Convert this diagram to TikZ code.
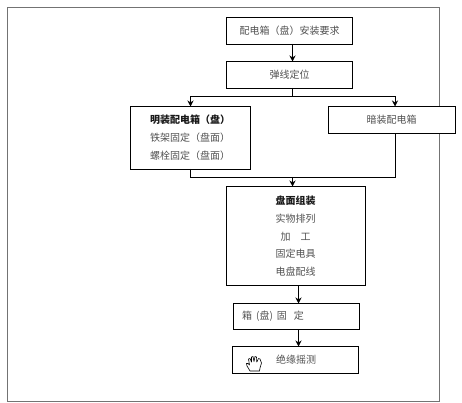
\documentclass[tikz,border=0pt]{standalone}
\usepackage{fontspec}
\setmainfont{Noto Sans CJK SC}
\usetikzlibrary{arrows.meta}
\tikzset{
  box/.style={draw=black,fill=white,line width=0.9pt,inner sep=0pt,outer sep=0pt,minimum width=#1},
  lbl/.style={font=\fontsize{10}{12}\selectfont,text=black!68,inner sep=0pt},
  ttl/.style={font=\fontsize{10}{12}\selectfont\bfseries,text=black!90,inner sep=0pt},
  flow/.style={line width=0.9pt,-{Stealth[length=6pt,width=6pt]}},
  seg/.style={line width=0.9pt}
}
\begin{document}
\begin{tikzpicture}[x=1pt,y=-1pt]
\useasboundingbox (0,0) rectangle (462,403);
\node[draw=black!55,line width=0.9pt,minimum width=432pt,minimum height=393pt,inner sep=0pt,anchor=north west] (frame) at (6.5,7.5) {};
% boxes
\node[box=126pt,minimum height=26.5pt,anchor=north west] (A) at (226.5,17.5) {};
\node[box=126pt,minimum height=26.5pt,anchor=north west] (B) at (226.5,61.5) {};
\node[box=120pt,minimum height=62.5pt,anchor=north west] (C) at (130.5,106.5) {};
\node[box=127pt,minimum height=27pt,anchor=north west] (D) at (328.5,106.5) {};
\node[box=139pt,minimum height=98.5pt,anchor=north west] (E) at (226.5,186.5) {};
\node[box=126pt,minimum height=25.5pt,anchor=north west] (F) at (233.5,303.5) {};
\node[box=126pt,minimum height=26.5pt,anchor=north west] (G) at (232.5,346.5) {};
% texts
\node[lbl] (ta) at (289.5,30.5) {配电箱（盘）安装要求};
\node[lbl] (tb) at (289.5,75) {弹线定位};
\node[ttl,anchor=west] (tc1) at (150,120) {明装配电箱（盘）};
\node[lbl,anchor=west] (tc2) at (150,138) {铁架固定（盘面）};
\node[lbl,anchor=west] (tc3) at (150,156) {螺栓固定（盘面）};
\node[lbl] (td) at (391.5,120) {暗装配电箱};
\node[ttl] (te1) at (295.5,200.5) {盘面组装};
\node[lbl] (te2) at (295.5,218.5) {实物排列};
\node[lbl] (te3) at (295.5,236.5) {加\hspace{10pt}工};
\node[lbl] (te4) at (295.5,254) {固定电具};
\node[lbl] (te5) at (295.5,272) {电盘配线};
\node[lbl,anchor=west] (tf) at (242,316.5) {箱\hspace{4pt}(盘)\hspace{4pt}固\hspace{7pt}定};
\node[lbl] (tg) at (296,360) {绝缘摇测};
% hand icon
\draw[line width=0.6pt,fill=white,line join=round] (250,371) -- (247,366) -- (246.5,363.5) -- (248,363.5) -- (249.5,365)
  -- (248.5,359) -- (250,358.5) -- (251.5,362)
  -- (251.5,357) -- (253,356.5) -- (254,361.5)
  -- (255,356.5) -- (256.5,357) -- (256.8,362)
  -- (258.5,358.5) -- (260,359) -- (261.5,363) -- (260,368) -- (259.5,371) -- cycle;
% connector junctions
\coordinate (ab) at (292.5,44);
\coordinate (ba) at (292.5,61.5);
\coordinate (b0) at (292.5,88);
\coordinate (b1) at (292.5,96.5);
\coordinate (cin) at (190.5,106.5);
\coordinate (dup) at (395,106.5);
\coordinate (cb) at (190.5,169);
\coordinate (db) at (395.5,133.5);
\coordinate (m) at (292.5,177);
\coordinate (ein) at (292.5,186.5);
\coordinate (ef) at (298.5,285);
\coordinate (fe) at (298.5,303.5);
\coordinate (fg) at (298.5,329);
\coordinate (gf) at (298.5,346.5);
% connectors
\draw[flow] (ab) -- (ba);
\draw[seg] (b0) -- (b1);
\draw[flow] (b1) -| (cin);
\draw[flow] (b1) -| (dup);
\draw[seg] (cb) |- (m);
\draw[seg] (db) |- (m);
\draw[flow] (m) -- (ein);
\draw[flow] (ef) -- (fe);
\draw[flow] (fg) -- (gf);
\end{tikzpicture}
\end{document}
